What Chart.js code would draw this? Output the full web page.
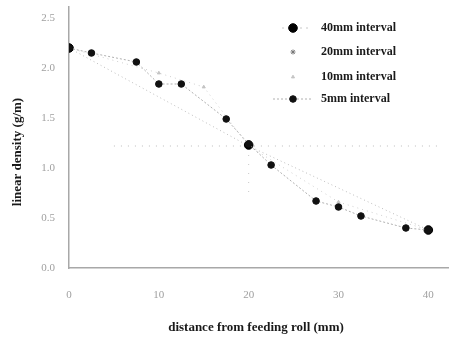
<!DOCTYPE html>
<html>
<head>
<meta charset="utf-8">
<script src="https://cdn.jsdelivr.net/npm/chart.js@4.4.0/dist/chart.umd.min.js"></script>
<style>
  html, body { margin: 0; padding: 0; background: #fff; }
  #wrap { width: 449px; height: 338px; }
</style>
</head>
<body>
<div id="wrap"><canvas id="chart" width="449" height="338"></canvas></div>
<script>
// distance from feeding roll (mm) and linear density (g/m)
const x5 = [0, 2.5, 7.5, 10, 12.5, 17.5, 20, 22.5, 27.5, 30, 32.5, 37.5, 40];
const y5 = [2.2, 2.15, 2.06, 1.84, 1.84, 1.49, 1.24, 1.03, 0.67, 0.61, 0.52, 0.40, 0.38];
const x40 = [0, 20, 40];
const y40 = [2.2, 1.23, 0.38];
const x20 = [0, 20, 40];
const y20 = [2.2, 1.22, 0.38];
const x10 = [0, 10, 15, 20, 30, 40];
const y10 = [2.2, 1.95, 1.81, 1.22, 0.66, 0.38];
// faint guide lines
const xLevel = [5, 41.5];
const yLevel = [1.22, 1.22];
const xDrop = [20, 20];
const yDrop = [1.22, 0.69];

const xTicks = [0, 10, 20, 30, 40];
const yTicks = [0, 0.5, 1.0, 1.5, 2.0, 2.5];

const legendLabels = ['40mm interval', '20mm interval', '10mm interval', '5mm interval'];

function pts(xs, ys) { return xs.map((x, i) => ({ x: x, y: ys[i] })); }

const serif = '"Liberation Serif", "DejaVu Serif", serif';

const datasets = [
  {
    label: legendLabels[3], data: pts(x5, y5), showLine: true,
    borderColor: '#b0b0b0', borderWidth: 1, borderDash: [2, 2],
    pointRadius: 3.3, pointBackgroundColor: '#111', pointBorderColor: '#111',
    legendY: 99, legendLine: [273, 311]
  },
  {
    label: legendLabels[0], data: pts(x40, y40), showLine: false,
    borderColor: '#c8c8c8', borderWidth: 1, borderDash: [2, 4],
    pointRadius: 4.3, pointBackgroundColor: '#000', pointBorderColor: '#000',
    legendY: 28, legendLine: [282, 310]
  },
  {
    label: legendLabels[1], data: pts(x20, y20), showLine: true,
    borderColor: '#bdbdbd', borderWidth: 1, borderDash: [1, 3],
    pointStyle: 'star', pointRadius: 2.5, pointBorderColor: '#777', pointBackgroundColor: '#777',
    legendY: 52
  },
  {
    label: legendLabels[2], data: pts(x10, y10), showLine: true,
    borderColor: '#cfcfcf', borderWidth: 1, borderDash: [1, 4],
    pointStyle: 'triangle', pointRadius: 1.8, pointBorderColor: '#c4c4c4', pointBackgroundColor: '#c4c4c4',
    legendY: 77
  },
  {
    data: pts(xLevel, yLevel), showLine: true,
    borderColor: '#bdbdbd', borderWidth: 1, borderDash: [1, 6], pointRadius: 0
  },
  {
    data: pts(xDrop, yDrop), showLine: true,
    borderColor: '#c8c8c8', borderWidth: 1, borderDash: [1, 8], pointRadius: 0
  }
];

// legend and axis titles drawn at the spots they have in the picture
const decor = {
  id: 'decor',
  afterDraw(chart) {
    const ctx = chart.ctx;
    ctx.save();
    chart.data.datasets.forEach(ds => {
      if (!ds.label) return;
      const y = ds.legendY;
      if (ds.legendLine) {
        ctx.strokeStyle = ds.borderColor;
        ctx.lineWidth = 1;
        ctx.setLineDash(ds.borderDash);
        ctx.beginPath();
        ctx.moveTo(ds.legendLine[0], y);
        ctx.lineTo(ds.legendLine[1], y);
        ctx.stroke();
        ctx.setLineDash([]);
      }
      ctx.fillStyle = ds.pointBackgroundColor;
      ctx.strokeStyle = ds.pointBorderColor;
      ctx.lineWidth = 1;
      Chart.helpers.drawPoint(ctx, { pointStyle: ds.pointStyle || 'circle', radius: ds.pointRadius, rotation: 0, borderWidth: 1 }, 293, y);
      ctx.fillStyle = '#1a1a1a';
      ctx.font = 'bold 12px ' + serif;
      ctx.textAlign = 'left';
      ctx.textBaseline = 'middle';
      ctx.fillText(ds.label, 321, y);
    });

    ctx.fillStyle = '#1a1a1a';
    ctx.font = 'bold 13px ' + serif;
    ctx.textAlign = 'center';
    ctx.textBaseline = 'middle';
    ctx.fillText('distance from feeding roll (mm)', 256, 328);

    ctx.translate(18, 152);
    ctx.rotate(-Math.PI / 2);
    ctx.fillText('linear density (g/m)', 0, 0);
    ctx.restore();
  }
};

new Chart(document.getElementById('chart'), {
  type: 'scatter',
  data: { datasets: datasets },
  options: {
    responsive: false,
    animation: false,
    layout: { autoPadding: false, padding: { top: 7, right: 0, bottom: 0, left: 0 } },
    plugins: { legend: { display: false }, tooltip: { enabled: false } },
    scales: {
      x: {
        type: 'linear', min: 0, max: 42.3,
        afterFit: s => { s.height = 70; s.paddingRight = 0; s.paddingLeft = 0; },
        afterBuildTicks: s => { s.ticks = xTicks.map(v => ({ value: v })); },
        grid: { display: false, drawTicks: false },
        border: { display: true, color: '#a8a8a8', width: 1.5, dash: [2, 1] },
        ticks: { padding: 21, color: '#a0a0a0', font: { family: serif, size: 11 } }
      },
      y: {
        type: 'linear', min: 0, max: 2.61,
        afterFit: s => { s.width = 69; s.paddingTop = 0; s.paddingBottom = 0; },
        afterBuildTicks: s => { s.ticks = yTicks.map(v => ({ value: v })); },
        grid: { display: false, drawTicks: false },
        border: { display: true, color: '#a8a8a8', width: 1.5, dash: [2, 1] },
        ticks: { padding: 14, color: '#a0a0a0', font: { family: serif, size: 11 },
                 callback: v => Number(v).toFixed(1) }
      }
    }
  },
  plugins: [decor]
});
</script>
</body>
</html>
